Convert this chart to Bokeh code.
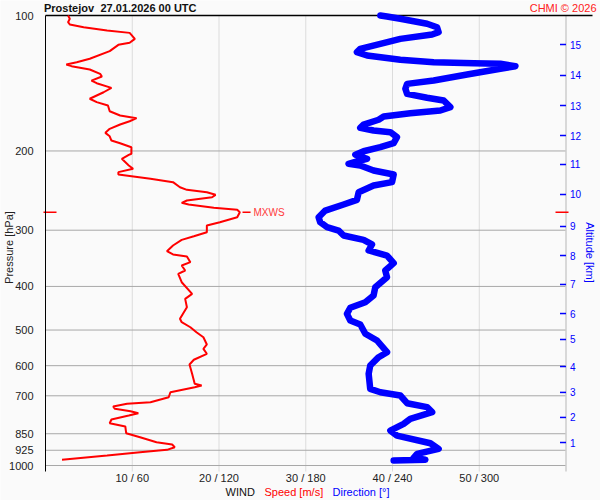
import math
from bokeh.plotting import figure
from bokeh.models import Range1d, FixedTicker, Label, BasicTickFormatter, LogAxis
from bokeh.core.properties import value
from bokeh.embed import file_html
from bokeh.resources import INLINE

# ---- data ----
speed_p = [100, 101.7, 103.5, 104.7, 106.2, 108.0, 109.3, 112.7, 115.0, 116.2, 120.0, 124.8, 127.0, 128.5,
           129.6, 131.8, 134.8, 136.6, 139.5, 141.4, 144.8, 148.1, 153.1, 155.8, 158.5, 163.2, 166.8, 169.1,
           171.8, 174.7, 178.6, 182.3, 185.5, 189.6, 192.2, 196.2, 202.9, 204.0, 208.2, 215.4, 219.1, 222.9,
           225.6, 230.6, 234.6, 240.8, 244.0, 247.0, 250.3, 253.4, 257.7, 260.8, 263.0, 267.5, 270.3, 273.6,
           280.7, 288.0, 292.9, 303.1, 309.4, 315.2, 324.4, 334.0, 339.7, 343.2, 353.3, 359.4, 368.7, 375.0,
           391.5, 415.5, 426.3, 444.9, 472.1, 480.4, 492.9, 505.6, 518.7, 538.4, 550.4, 564.6, 582.2, 596.4,
           625.4, 658.3, 664.1, 669.9, 687.3, 705.1, 723.3, 729.3, 739.4, 748.2, 757.4, 765.2, 774.3, 790.3,
           805.4, 819.1, 847.7, 865.3, 887.8, 898.3, 910.8, 923.0, 934.4, 950.4, 971.3]
speed_ms = [2.6, 2.8, 2.6, 2.8, 4.4, 7.1, 9.7, 10.3, 9.7, 8.4, 7.4, 5.1, 3.6, 2.4,
            3.0, 5.1, 6.3, 6.5, 5.3, 5.9, 7.6, 6.7, 5.1, 5.9, 7.2, 7.4, 8.6, 10.5,
            9.7, 8.6, 7.4, 6.9, 7.4, 7.6, 8.6, 9.9, 9.9, 9.6, 8.8, 9.6, 10.1, 8.4,
            8.4, 12.1, 14.7, 15.5, 16.3, 18.6, 19.6, 19.2, 16.3, 15.7, 16.5, 19.4, 22.1, 22.4,
            22.1, 20.1, 18.6, 18.6, 17.1, 15.7, 14.7, 14.0, 14.7, 16.3, 16.7, 15.7, 16.1, 15.3,
            15.7, 16.9, 16.1, 16.3, 15.5, 15.7, 16.7, 17.4, 18.2, 18.6, 18.2, 18.6, 17.1, 16.6,
            16.9, 17.2, 18.0, 17.2, 14.4, 14.2, 12.1, 9.4, 7.8, 8.0, 9.8, 10.7, 9.6, 7.6,
            7.4, 9.2, 9.3, 10.9, 12.8, 14.6, 14.9, 14.0, 10.9, 7.1, 1.9]

dir_p = [100, 100.5, 101.7, 104.3, 106.2, 108.9, 110.2, 112.7, 115.6, 118.6, 120.6, 122.7, 125.4, 127.0,
         127.6, 128.0, 129.6, 131.3, 135.2, 139.5, 141.9, 145.5, 149.3, 152.3, 154.5, 159.8, 162.6, 164.9,
         167.7, 170.5, 174.7, 177.7, 180.1, 181.7, 186.4, 192.2, 196.2, 200.3, 203.9, 208.2, 210.0, 213.6,
         215.4, 221.0, 225.6, 234.6, 238.7, 247.0, 256.8, 263.0, 271.3, 280.7, 288.0, 295.4, 300.5, 308.3,
         315.2, 322.7, 332.8, 341.5, 355.1, 368.7, 381.6, 401.6, 419.0, 433.7, 446.2, 460.2, 476.2, 486.1,
         509.6, 527.5, 560.1, 574.5, 599.5, 625.4, 675.5, 687.3, 699.0, 727.1, 742.0, 761.2, 787.4, 808.0,
         836.2, 858.0, 892.3, 918.3, 941.9, 961.3, 971.3, 974.8]
dir_deg = [231.6, 236.2, 245.4, 263.9, 270.8, 271.9, 267.4, 245.4, 231.6, 217.7, 215.4, 222.4, 245.4, 268.5,
           296.2, 314.6, 325.0, 314.6, 291.6, 268.5, 250.1, 248.9, 250.1, 263.9, 275.4, 280.0, 273.1, 252.3,
           233.9, 230.4, 220.0, 217.7, 226.9, 238.5, 243.1, 240.8, 231.6, 220.0, 214.3, 222.4, 217.7, 209.6,
           217.7, 226.9, 240.8, 239.7, 226.9, 216.6, 215.4, 206.2, 193.5, 188.9, 190.0, 194.7, 202.7, 206.2,
           220.0, 225.8, 223.5, 236.2, 240.8, 235.0, 236.2, 228.1, 226.9, 221.2, 210.8, 208.5, 210.8, 217.7,
           221.2, 229.3, 236.2, 230.4, 224.6, 223.5, 224.6, 231.6, 245.4, 250.1, 263.9, 267.4, 252.3, 247.7,
           238.5, 243.1, 266.2, 271.9, 257.0, 254.6, 262.7, 240.8]

p_ticks = [100, 200, 300, 400, 500, 600, 700, 850, 925, 1000]
p_tick_labels = ["100", "200", "300", "400", "500", "600", "700", "850", "925", "1000"]
p_grid = [200, 300, 400, 500, 600, 700, 850, 925, 1000]
wind_ticks = [10, 20, 30, 40, 50]
wind_tick_labels = ["10 / 60", "20 / 120", "30 / 180", "40 / 240", "50 / 300"]
alt_km = [1, 2, 3, 4, 5, 6, 7, 8, 9, 10, 11, 12, 13, 14, 15]
alt_p = [889, 782, 688, 602.6, 524.8, 459.5, 396, 341.5, 294.3, 249.9, 214.3, 184.8, 158.5, 135.9, 116]

# ---- layout constants (pixels of the 600x500 canvas) ----
W, H = 600, 500
PX0, PXS = 45.0, 8.675          # x pixel of 0 m/s, pixels per m/s
PY0, PYD = 15.0, 450.0          # y pixel of 100 hPa, pixels per decade


def xd(px):
    return (px - PX0) / PXS


def yd(py):
    return 100 * 10 ** ((py - PY0) / PYD)


FONT = "Liberation Sans"
WIND_MAX = 60.0       # 60 m/s == 360 deg
P_TOP, P_BOTTOM = 100, yd(471)

p = figure(width=W, height=H, x_range=Range1d(xd(0), xd(W)), y_range=Range1d(yd(H), yd(0)),
           y_axis_type="log", x_axis_location=None, y_axis_location=None,
           output_backend="svg", toolbar_location=None,
           min_border_left=0, min_border_right=0, min_border_top=0, min_border_bottom=0,
           background_fill_color="#fafafa", border_fill_color="#fafafa", outline_line_color=None)
p.extra_x_ranges = {"dir": Range1d(xd(0) * 6, xd(W) * 6)}
p.xgrid.visible = False
p.ygrid.visible = False

# grid lines
p.segment(x0=wind_ticks, y0=[P_TOP] * len(wind_ticks), x1=wind_ticks, y1=[P_BOTTOM] * len(wind_ticks),
          line_color="#dcdcdc", line_width=1)
p.segment(x0=[0] * len(p_grid), y0=p_grid, x1=[WIND_MAX] * len(p_grid), y1=p_grid,
          line_color="#a8a8a8", line_width=1)

# pressure axis (left), fixed at 0 m/s
yax = LogAxis(fixed_location=0, bounds=(P_TOP, P_BOTTOM), ticker=FixedTicker(ticks=p_ticks),
              formatter=BasicTickFormatter(),
              major_label_overrides={t: l for t, l in zip(p_ticks, p_tick_labels)},
              axis_line_color="black", axis_line_width=1,
              major_tick_line_color=None, minor_tick_line_color=None, major_label_standoff=6,
              major_label_text_font=FONT, major_label_text_font_size="11px",
              major_label_text_color="#222222")
p.add_layout(yax, "left")

# altitude scale (right): line, ticks and labels
p.segment(x0=[WIND_MAX], y0=[P_TOP], x1=[WIND_MAX], y1=[P_BOTTOM], line_color="#cccccc", line_width=1.5)
p.segment(x0=[xd(559.5)] * len(alt_p), y0=alt_p, x1=[WIND_MAX] * len(alt_p), y1=alt_p,
          line_color="blue", line_width=1.5)
p.text(x=[xd(569.5)] * len(alt_p), y=alt_p, text=[str(k) for k in alt_km],
       text_font=value(FONT), text_font_size="10px", text_color="blue",
       text_align="left", text_baseline="middle")

# wind scale labels (bottom)
p.text(x=wind_ticks, y=[yd(477.5)] * len(wind_ticks), text=wind_tick_labels,
       text_font=value(FONT), text_font_size="11px", text_color="#222222",
       text_align="center", text_baseline="middle")

# top border line
p.segment(x0=[0], y0=[P_TOP], x1=[xd(592)], y1=[P_TOP], line_color="black", line_width=1.5)

# profiles
p.line(dir_deg, dir_p, x_range_name="dir", line_color="blue", line_width=6.5,
       line_cap="round", line_join="round")
p.line(speed_ms, speed_p, line_color="red", line_width=2)

# MXWS
imax = max(range(len(speed_ms)), key=lambda i: speed_ms[i])
smax, pmax = speed_ms[imax], speed_p[imax]
p.segment(x0=[smax + 0.31], y0=[pmax], x1=[smax + 1.24], y1=[pmax], line_color="red", line_width=1.5)
p.segment(x0=[xd(43)], y0=[pmax], x1=[xd(56)], y1=[pmax], line_color="red", line_width=1.5)
p.segment(x0=[xd(555)], y0=[pmax], x1=[xd(568)], y1=[pmax], line_color="red", line_width=1.5)
p.add_layout(Label(x=smax + 1.58, y=pmax, text="MXWS", text_font=FONT, text_font_size="10px",
                   text_color="#ff3a3a", text_align="left", text_baseline="middle"))

# titles
p.add_layout(Label(x=xd(43.5), y=yd(7.5), text="Prostejov", text_font=FONT, text_font_size="11px",
                   text_font_style="bold", text_color="#111111", text_baseline="middle"))
p.add_layout(Label(x=xd(100), y=yd(7.5), text="27.01.2026 00 UTC", text_font=FONT, text_font_size="11px",
                   text_font_style="bold", text_color="#111111", text_baseline="middle"))
p.add_layout(Label(x=xd(596), y=yd(7.5), text="CHMI © 2026", text_font=FONT, text_font_size="11px",
                   text_color="#ff2020", text_align="right", text_baseline="middle"))
p.add_layout(Label(x=xd(8), y=yd(247), text="Pressure [hPa]", angle=math.pi / 2, text_font=FONT,
                   text_font_size="11px", text_color="#222222",
                   text_align="center", text_baseline="middle"))
p.add_layout(Label(x=xd(589), y=yd(252), text="Altitude [km]", angle=-math.pi / 2,
                   text_font=FONT, text_font_size="11px", text_color="blue",
                   text_align="center", text_baseline="middle"))

# x axis title (three colours)
p.add_layout(Label(x=xd(225), y=yd(491), text="WIND", text_font=FONT, text_font_size="11px",
                   text_color="#111111", text_baseline="middle"))
p.add_layout(Label(x=xd(264), y=yd(491), text="Speed [m/s]", text_font=FONT, text_font_size="11px",
                   text_color="red", text_baseline="middle"))
p.add_layout(Label(x=xd(332), y=yd(491), text="Direction [°]", text_font=FONT, text_font_size="11px",
                   text_color="blue", text_baseline="middle"))

open("out.html", "w").write(file_html(p, INLINE))
